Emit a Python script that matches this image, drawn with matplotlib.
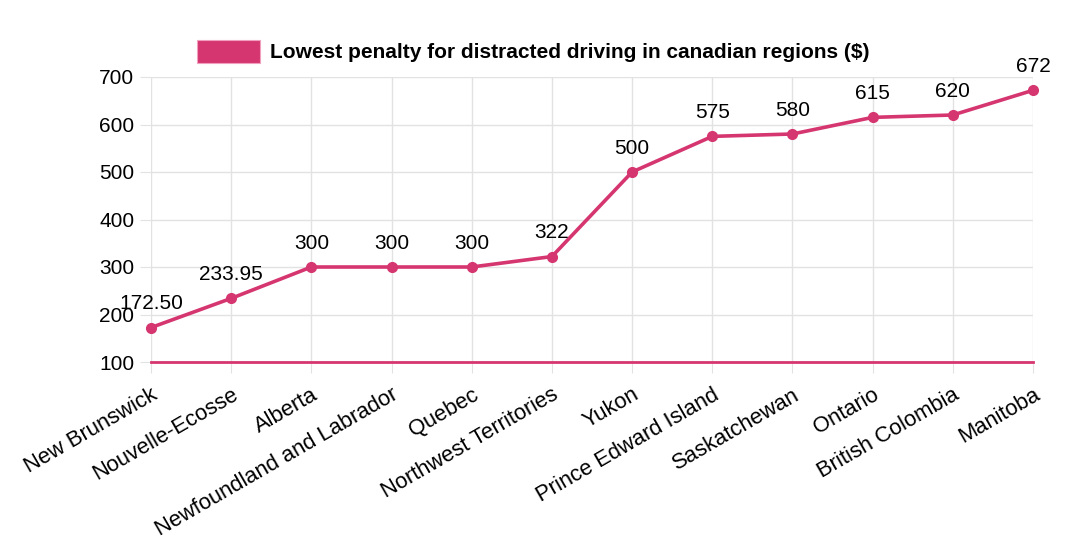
import matplotlib
matplotlib.use("Agg")
import matplotlib.pyplot as plt
from matplotlib.patches import Rectangle
from matplotlib.transforms import ScaledTranslation

regions = ["New Brunswick", "Nouvelle-Ecosse", "Alberta", "Newfoundland and Labrador",
           "Quebec", "Northwest Territories", "Yukon", "Prince Edward Island",
           "Saskatchewan", "Ontario", "British Colombia", "Manitoba"]
penalties = [172.50, 233.95, 300, 300, 300, 322, 500, 575, 580, 615, 620, 672]
value_labels = ["172.50", "233.95", "300", "300", "300", "322", "500", "575",
                "580", "615", "620", "672"]
yticks = [100, 200, 300, 400, 500, 600, 700]
legend_label = "Lowest penalty for distracted driving in canadian regions ($)"

color = "#d6366f"
grid_c = "#e2e2e2"
plt.rcParams['font.family'] = ['Liberation Sans', 'DejaVu Sans']

fig = plt.figure(figsize=(10.8, 5.54), dpi=100)
ax = fig.add_axes([151/1080, 1-362/554, (1033-151)/1080, (362-77)/554])
x = list(range(len(regions)))
ax.plot(x, penalties, color=color, lw=2.6, marker='o', ms=7, zorder=3, clip_on=False)
ax.axhline(100, color=color, lw=2.0, zorder=2, clip_on=False)
ax.set_xlim(0, len(regions)-1)
ax.set_ylim(100, 700)
ax.set_yticks(yticks)
ax.set_xticks(x)
ax.set_xticklabels(regions, rotation=30, ha='right', rotation_mode='anchor', fontsize=15.8)
offset = ScaledTranslation(10/100, 0, fig.dpi_scale_trans)
for lbl in ax.get_xticklabels():
    lbl.set_transform(lbl.get_transform() + offset)
ax.grid(True, color=grid_c, lw=1)
for s in ax.spines.values():
    s.set_visible(False)
ax.tick_params(axis='both', length=8, color=grid_c, labelcolor='black')
ax.tick_params(axis='y', pad=4, labelsize=15)
ax.tick_params(axis='x', pad=8)
for xi, v, lab in zip(x, penalties, value_labels):
    ax.annotate(lab, (xi, v), xytext=(0, 17), textcoords='offset points',
                ha='center', va='center', fontsize=15, clip_on=False)

fig.patches.append(Rectangle((197/1080, 1-63/554), 63/1080, 23/554, transform=fig.transFigure,
                             facecolor=color, edgecolor='#f0a0bc', lw=0.8))
fig.text(270/1080, 1-52/554, legend_label, fontsize=15, fontweight='bold', va='center', ha='left')
fig.savefig("out.png", dpi=100)
